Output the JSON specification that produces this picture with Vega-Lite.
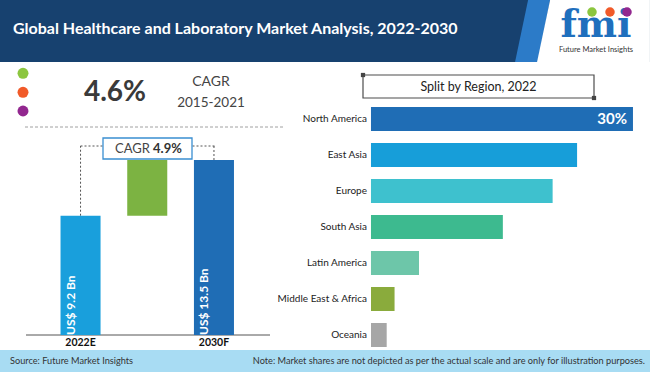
{
  "$schema": "https://vega.github.io/schema/vega-lite/v6.json",
  "padding": 0,
  "spacing": 0,
  "bounds": "flush",
  "background": "white",
  "config": {"view": {"stroke": null}, "font": "Lato"},
  "vconcat": [
    {
      "width": 650,
      "height": 62,
      "view": {"fill": "#17416f", "stroke": null},
      "data": {"values": [{"title": "Global Healthcare and Laboratory Market Analysis, 2022-2030", "brand": "Future Market Insights", "logo": "fmi"}]},
      "layer": [
        {
          "mark": {"type": "point", "shape": "M -2.32 -1 L -1.61 -1 L -2 1 L -2.74 1 Z", "filled": true, "fill": "#2c7bc8", "opacity": 1, "size": 3844, "strokeWidth": 0},
          "encoding": {
            "x": {"datum": 600, "type": "quantitative", "scale": {"domain": [0, 650], "nice": false, "zero": false}, "axis": null},
            "y": {"datum": 31, "type": "quantitative", "scale": {"domain": [0, 62], "reverse": true, "nice": false, "zero": false}, "axis": null}
          }
        },
        {
          "mark": {"type": "point", "shape": "M -1.61 -1 L 1.61 -1 L 1.61 1 L -2.03 1 Z", "filled": true, "fill": "white", "opacity": 1, "size": 3844, "strokeWidth": 0},
          "encoding": {"x": {"datum": 600, "type": "quantitative"}, "y": {"datum": 31, "type": "quantitative"}}
        },
        {
          "mark": {"type": "text", "align": "left", "baseline": "middle", "fill": "white", "fontSize": 16, "fontWeight": "bold", "font": "Lato"},
          "encoding": {"x": {"datum": 13, "type": "quantitative"}, "y": {"datum": 29, "type": "quantitative"}, "text": {"field": "title"}}
        },
        {
          "mark": {"type": "text", "align": "center", "baseline": "alphabetic", "fill": "#1f6fbd", "fontSize": 38, "fontWeight": "bold", "font": "DejaVu Serif"},
          "encoding": {"x": {"datum": 596, "type": "quantitative"}, "y": {"datum": 37, "type": "quantitative"}, "text": {"field": "logo"}}
        },
        {
          "mark": {"type": "point", "filled": true, "fill": "#8cc63f", "opacity": 1, "size": 90, "strokeWidth": 0},
          "encoding": {"x": {"datum": 592, "type": "quantitative"}, "y": {"datum": 12, "type": "quantitative"}}
        },
        {
          "mark": {"type": "point", "filled": true, "fill": "#f15a29", "opacity": 1, "size": 90, "strokeWidth": 0},
          "encoding": {"x": {"datum": 610, "type": "quantitative"}, "y": {"datum": 12, "type": "quantitative"}}
        },
        {
          "mark": {"type": "point", "filled": true, "fill": "#92278f", "opacity": 1, "size": 90, "strokeWidth": 0},
          "encoding": {"x": {"datum": 627, "type": "quantitative"}, "y": {"datum": 12, "type": "quantitative"}}
        },
        {
          "mark": {"type": "text", "align": "center", "baseline": "middle", "fill": "#333333", "fontSize": 7.5, "font": "Lato"},
          "encoding": {"x": {"datum": 596, "type": "quantitative"}, "y": {"datum": 50, "type": "quantitative"}, "text": {"field": "brand"}}
        }
      ]
    },
    {
      "width": 650,
      "height": 288,
      "data": {"values": [{"cagr": "4.6%", "cagrLabel": "CAGR", "period": "2015-2021", "word": "CAGR", "rate": "4.9%", "heading": "Split by Region, 2022"}]},
      "resolve": {"scale": {"x": "independent", "y": "independent", "color": "independent"}},
      "layer": [
        {
          "mark": {"type": "rule", "strokeDash": [3, 2], "color": "#a0a0a0", "strokeWidth": 1},
          "encoding": {
            "x": {"datum": 25, "type": "quantitative", "scale": {"domain": [0, 650], "nice": false, "zero": false}, "axis": null},
            "x2": {"datum": 285},
            "y": {"datum": 65, "type": "quantitative", "scale": {"domain": [0, 288], "reverse": true, "nice": false, "zero": false}, "axis": null}
          }
        },
        {
          "mark": {"type": "point", "filled": true, "fill": "#8cc63f", "opacity": 1, "size": 120, "strokeWidth": 0},
          "encoding": {
            "x": {"datum": 23, "type": "quantitative", "scale": {"domain": [0, 650], "nice": false, "zero": false}, "axis": null},
            "y": {"datum": 11.3, "type": "quantitative", "scale": {"domain": [0, 288], "reverse": true, "nice": false, "zero": false}, "axis": null}
          }
        },
        {
          "mark": {"type": "point", "filled": true, "fill": "#f15a29", "opacity": 1, "size": 120, "strokeWidth": 0},
          "encoding": {
            "x": {"datum": 23, "type": "quantitative", "scale": {"domain": [0, 650], "nice": false, "zero": false}, "axis": null},
            "y": {"datum": 30.3, "type": "quantitative", "scale": {"domain": [0, 288], "reverse": true, "nice": false, "zero": false}, "axis": null}
          }
        },
        {
          "mark": {"type": "point", "filled": true, "fill": "#92278f", "opacity": 1, "size": 120, "strokeWidth": 0},
          "encoding": {
            "x": {"datum": 23, "type": "quantitative", "scale": {"domain": [0, 650], "nice": false, "zero": false}, "axis": null},
            "y": {"datum": 49, "type": "quantitative", "scale": {"domain": [0, 288], "reverse": true, "nice": false, "zero": false}, "axis": null}
          }
        },
        {
          "mark": {"type": "text", "align": "center", "baseline": "middle", "fill": "#3a3a3a", "fontSize": 28, "fontWeight": "bold", "font": "Lato"},
          "encoding": {
            "x": {"datum": 115, "type": "quantitative", "scale": {"domain": [0, 650], "nice": false, "zero": false}, "axis": null},
            "y": {"datum": 31, "type": "quantitative", "scale": {"domain": [0, 288], "reverse": true, "nice": false, "zero": false}, "axis": null},
            "text": {"field": "cagr"}
          }
        },
        {
          "mark": {"type": "text", "align": "center", "baseline": "middle", "fill": "#444444", "fontSize": 14, "font": "Lato"},
          "encoding": {
            "x": {"datum": 211, "type": "quantitative", "scale": {"domain": [0, 650], "nice": false, "zero": false}, "axis": null},
            "y": {"datum": 20, "type": "quantitative", "scale": {"domain": [0, 288], "reverse": true, "nice": false, "zero": false}, "axis": null},
            "text": {"field": "cagrLabel"}
          }
        },
        {
          "mark": {"type": "text", "align": "center", "baseline": "middle", "fill": "#444444", "fontSize": 13.5, "font": "Lato"},
          "encoding": {
            "x": {"datum": 211, "type": "quantitative", "scale": {"domain": [0, 650], "nice": false, "zero": false}, "axis": null},
            "y": {"datum": 41, "type": "quantitative", "scale": {"domain": [0, 288], "reverse": true, "nice": false, "zero": false}, "axis": null},
            "text": {"field": "period"}
          }
        },
        {
          "mark": {"type": "rule", "color": "#555555", "strokeWidth": 1},
          "encoding": {
            "x": {"datum": 26, "type": "quantitative", "scale": {"domain": [0, 650], "nice": false, "zero": false}, "axis": null},
            "x2": {"datum": 270},
            "y": {"datum": 273, "type": "quantitative", "scale": {"domain": [0, 288], "reverse": true, "nice": false, "zero": false}, "axis": null}
          }
        },
        {
          "mark": {"type": "rule", "strokeDash": [2, 2], "color": "#555555", "strokeWidth": 1},
          "encoding": {
            "x": {"datum": 80.5, "type": "quantitative", "scale": {"domain": [0, 650], "nice": false, "zero": false}, "axis": null},
            "x2": {"datum": 214.5},
            "y": {"datum": 84, "type": "quantitative", "scale": {"domain": [0, 288], "reverse": true, "nice": false, "zero": false}, "axis": null}
          }
        },
        {
          "data": {"values": [
            {"stage": "2022E", "start": 0, "end": 9.2, "label": "US$ 9.2 Bn"},
            {"stage": "2030F", "start": 0, "end": 13.5, "label": "US$ 13.5 Bn"}
          ]},
          "mark": {"type": "rule", "strokeDash": [2, 2], "color": "#555555", "strokeWidth": 1},
          "encoding": {
            "x": {"field": "stage", "type": "nominal", "scale": {"type": "band", "domain": ["2022E", "Growth", "2030F"], "range": [24.5, 270], "paddingInner": 0.4, "paddingOuter": 0.54}, "axis": null},
            "y": {"field": "end", "type": "quantitative", "scale": {"domain": [-1.157, 21.06], "nice": false, "zero": false}, "axis": null},
            "y2": {"datum": 14.58}
          }
        },
        {
          "data": {"values": [
            {"stage": "2022E", "start": 0, "end": 9.2, "label": "US$ 9.2 Bn"},
            {"stage": "Growth", "start": 9.2, "end": 13.5, "label": ""},
            {"stage": "2030F", "start": 0, "end": 13.5, "label": "US$ 13.5 Bn"}
          ]},
          "mark": {"type": "bar"},
          "encoding": {
            "x": {"field": "stage", "type": "nominal", "scale": {"type": "band", "domain": ["2022E", "Growth", "2030F"], "range": [24.5, 270], "paddingInner": 0.4, "paddingOuter": 0.54}, "axis": null},
            "y": {"field": "start", "type": "quantitative", "scale": {"domain": [-1.157, 21.06], "nice": false, "zero": false}, "axis": null},
            "y2": {"field": "end"},
            "color": {"field": "stage", "type": "nominal", "scale": {"domain": ["2022E", "Growth", "2030F"], "range": ["#199fdc", "#7cb342", "#1f6db5"]}, "legend": null}
          }
        },
        {
          "data": {"values": [
            {"stage": "2022E", "start": 0, "end": 9.2, "label": "US$ 9.2 Bn"},
            {"stage": "2030F", "start": 0, "end": 13.5, "label": "US$ 13.5 Bn"}
          ]},
          "mark": {"type": "text", "angle": 270, "align": "left", "baseline": "middle", "dy": -10, "fill": "white", "fontSize": 12, "fontWeight": "bold", "font": "Lato"},
          "encoding": {
            "x": {"field": "stage", "type": "nominal", "scale": {"type": "band", "domain": ["2022E", "Growth", "2030F"], "range": [24.5, 270], "paddingInner": 0.4, "paddingOuter": 0.54}, "axis": null},
            "y": {"field": "start", "type": "quantitative", "scale": {"domain": [-1.157, 21.06], "nice": false, "zero": false}, "axis": null},
            "text": {"field": "label"}
          }
        },
        {
          "data": {"values": [
            {"stage": "2022E", "start": 0, "end": 9.2},
            {"stage": "2030F", "start": 0, "end": 13.5}
          ]},
          "mark": {"type": "text", "align": "center", "baseline": "middle", "dy": 8, "fill": "#111111", "fontSize": 10.5, "fontWeight": "bold", "font": "Lato"},
          "encoding": {
            "x": {"field": "stage", "type": "nominal", "scale": {"type": "band", "domain": ["2022E", "Growth", "2030F"], "range": [24.5, 270], "paddingInner": 0.4, "paddingOuter": 0.54}, "axis": null},
            "y": {"field": "start", "type": "quantitative", "scale": {"domain": [-1.157, 21.06], "nice": false, "zero": false}, "axis": null},
            "text": {"field": "stage"}
          }
        },
        {
          "mark": {"type": "rect", "fill": "white", "stroke": "#3a8fd1", "strokeWidth": 1.3},
          "encoding": {
            "x": {"datum": 103, "type": "quantitative", "scale": {"domain": [0, 650], "nice": false, "zero": false}, "axis": null},
            "x2": {"datum": 192},
            "y": {"datum": 76, "type": "quantitative", "scale": {"domain": [0, 288], "reverse": true, "nice": false, "zero": false}, "axis": null},
            "y2": {"datum": 97}
          }
        },
        {
          "mark": {"type": "text", "align": "right", "baseline": "middle", "fill": "#444444", "fontSize": 13, "font": "Lato"},
          "encoding": {
            "x": {"datum": 150, "type": "quantitative", "scale": {"domain": [0, 650], "nice": false, "zero": false}, "axis": null},
            "y": {"datum": 86.5, "type": "quantitative", "scale": {"domain": [0, 288], "reverse": true, "nice": false, "zero": false}, "axis": null},
            "text": {"field": "word"}
          }
        },
        {
          "mark": {"type": "text", "align": "left", "baseline": "middle", "fill": "#333333", "fontSize": 13, "fontWeight": "bold", "font": "Lato"},
          "encoding": {
            "x": {"datum": 153, "type": "quantitative", "scale": {"domain": [0, 650], "nice": false, "zero": false}, "axis": null},
            "y": {"datum": 86.5, "type": "quantitative", "scale": {"domain": [0, 288], "reverse": true, "nice": false, "zero": false}, "axis": null},
            "text": {"field": "rate"}
          }
        },
        {
          "data": {"values": [
            {"region": "North America", "share": 30, "label": "30%"},
            {"region": "East Asia", "share": 23.6, "label": ""},
            {"region": "Europe", "share": 20.8, "label": ""},
            {"region": "South Asia", "share": 15.1, "label": ""},
            {"region": "Latin America", "share": 5.5, "label": ""},
            {"region": "Middle East & Africa", "share": 2.7, "label": ""},
            {"region": "Oceania", "share": 1.8, "label": ""}
          ]},
          "mark": {"type": "bar"},
          "encoding": {
            "y": {"field": "region", "type": "nominal", "scale": {"type": "band", "domain": ["North America", "East Asia", "Europe", "South Asia", "Latin America", "Middle East & Africa", "Oceania"], "paddingInner": 0.3333, "paddingOuter": 0.6667, "align": 0.9375}, "axis": null},
            "x": {"field": "share", "type": "quantitative", "scale": {"domain": [-42.48, 31.95], "nice": false, "zero": false}, "axis": null},
            "color": {"field": "region", "type": "nominal", "scale": {"domain": ["North America", "East Asia", "Europe", "South Asia", "Latin America", "Middle East & Africa", "Oceania"], "range": ["#1f6db5", "#179ed9", "#3ec1ce", "#3dba8f", "#6dc6a9", "#8aab3c", "#a6a6a6"]}, "legend": null}
          }
        },
        {
          "data": {"values": [
            {"region": "North America", "share": 30},
            {"region": "East Asia", "share": 23.6},
            {"region": "Europe", "share": 20.8},
            {"region": "South Asia", "share": 15.1},
            {"region": "Latin America", "share": 5.5},
            {"region": "Middle East & Africa", "share": 2.7},
            {"region": "Oceania", "share": 1.8}
          ]},
          "mark": {"type": "text", "align": "right", "baseline": "middle", "dx": -4, "fill": "#222222", "fontSize": 10, "font": "Lato"},
          "encoding": {
            "y": {"field": "region", "type": "nominal", "scale": {"type": "band", "domain": ["North America", "East Asia", "Europe", "South Asia", "Latin America", "Middle East & Africa", "Oceania"], "paddingInner": 0.3333, "paddingOuter": 0.6667, "align": 0.9375}, "axis": null},
            "x": {"datum": 0, "type": "quantitative", "scale": {"domain": [-42.48, 31.95], "nice": false, "zero": false}, "axis": null},
            "text": {"field": "region"}
          }
        },
        {
          "data": {"values": [
            {"region": "North America", "share": 30, "label": "30%"}
          ]},
          "mark": {"type": "text", "align": "right", "baseline": "middle", "dx": -6, "fill": "white", "fontSize": 15, "fontWeight": "bold", "font": "Lato"},
          "encoding": {
            "y": {"field": "region", "type": "nominal", "scale": {"type": "band", "domain": ["North America", "East Asia", "Europe", "South Asia", "Latin America", "Middle East & Africa", "Oceania"], "paddingInner": 0.3333, "paddingOuter": 0.6667, "align": 0.9375}, "axis": null},
            "x": {"field": "share", "type": "quantitative", "scale": {"domain": [-42.48, 31.95], "nice": false, "zero": false}, "axis": null},
            "text": {"field": "label"}
          }
        },
        {
          "mark": {"type": "rect", "fill": "white", "stroke": "#4d4d4d", "strokeWidth": 1.2},
          "encoding": {
            "x": {"datum": 363, "type": "quantitative", "scale": {"domain": [0, 650], "nice": false, "zero": false}, "axis": null},
            "x2": {"datum": 594},
            "y": {"datum": 13, "type": "quantitative", "scale": {"domain": [0, 288], "reverse": true, "nice": false, "zero": false}, "axis": null},
            "y2": {"datum": 36}
          }
        },
        {
          "mark": {"type": "text", "align": "center", "baseline": "middle", "fill": "#222222", "fontSize": 12.5, "font": "Lato"},
          "encoding": {
            "x": {"datum": 478.5, "type": "quantitative", "scale": {"domain": [0, 650], "nice": false, "zero": false}, "axis": null},
            "y": {"datum": 24.5, "type": "quantitative", "scale": {"domain": [0, 288], "reverse": true, "nice": false, "zero": false}, "axis": null},
            "text": {"field": "heading"}
          }
        },
        {
          "mark": {"type": "point", "shape": "square", "filled": true, "fill": "#444444", "opacity": 1, "size": 18, "strokeWidth": 0},
          "encoding": {
            "x": {"datum": 363, "type": "quantitative", "scale": {"domain": [0, 650], "nice": false, "zero": false}, "axis": null},
            "y": {"datum": 13, "type": "quantitative", "scale": {"domain": [0, 288], "reverse": true, "nice": false, "zero": false}, "axis": null}
          }
        },
        {
          "mark": {"type": "point", "shape": "square", "filled": true, "fill": "#444444", "opacity": 1, "size": 18, "strokeWidth": 0},
          "encoding": {
            "x": {"datum": 594, "type": "quantitative", "scale": {"domain": [0, 650], "nice": false, "zero": false}, "axis": null},
            "y": {"datum": 36, "type": "quantitative", "scale": {"domain": [0, 288], "reverse": true, "nice": false, "zero": false}, "axis": null}
          }
        }
      ]
    },
    {
      "width": 650,
      "height": 22,
      "view": {"fill": "#a8dcf3", "stroke": null},
      "data": {"values": [{"source": "Source: Future Market Insights", "note": "Note: Market shares are not depicted as per the actual scale and are only for illustration purposes."}]},
      "layer": [
        {
          "mark": {"type": "text", "align": "left", "baseline": "middle", "fill": "#333333", "fontSize": 9.2, "font": "Lato"},
          "encoding": {
            "x": {"datum": 10, "type": "quantitative", "scale": {"domain": [0, 650], "nice": false, "zero": false}, "axis": null},
            "y": {"datum": 11, "type": "quantitative", "scale": {"domain": [0, 22], "reverse": true, "nice": false, "zero": false}, "axis": null},
            "text": {"field": "source"}
          }
        },
        {
          "mark": {"type": "text", "align": "right", "baseline": "middle", "fill": "#333333", "fontSize": 9.2, "font": "Lato"},
          "encoding": {
            "x": {"datum": 645, "type": "quantitative"},
            "y": {"datum": 11, "type": "quantitative"},
            "text": {"field": "note"}
          }
        }
      ]
    }
  ]
}
